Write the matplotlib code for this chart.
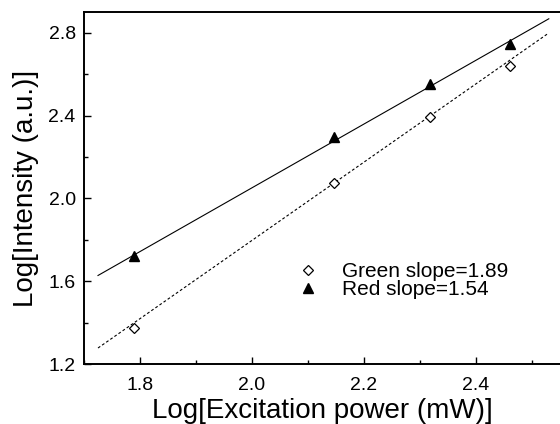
import numpy as np
import matplotlib
matplotlib.use("Agg")
import matplotlib.pyplot as plt
from matplotlib.ticker import MultipleLocator, FormatStrFormatter

plt.rcParams['font.family'] = ['Liberation Sans', 'DejaVu Sans']

# Data
x_power = [1.79, 2.146, 2.318, 2.46]
green_int = [1.375, 2.075, 2.392, 2.64]
red_int = [1.722, 2.298, 2.553, 2.745]

green_slope, green_icpt = 1.89, -1.983
red_slope, red_icpt = 1.54, -1.029
fit_x_range = [1.725, 2.53]

fig = plt.figure(figsize=(5.6, 4.24), dpi=100)
ax = fig.add_axes([0.15, 0.1415, 0.85, 0.8302])

fx = np.array(fit_x_range)
ax.plot(fx, red_slope * fx + red_icpt, color='black', lw=0.8, ls='-')
ax.plot(fx, green_slope * fx + green_icpt, color='black', lw=0.8,
        ls=(0, (2.5, 2)))

ax.plot(x_power, green_int, ls='none', marker='D', markersize=5.5,
        mfc='white', mec='black', mew=0.9, label='Green slope=1.89')
ax.plot(x_power, red_int, ls='none', marker='^', markersize=7,
        mfc='black', mec='black', label='Red slope=1.54')

ax.set_xlim(1.7, 2.55)
ax.set_ylim(1.2, 2.9)
ax.xaxis.set_major_locator(MultipleLocator(0.2))
ax.xaxis.set_minor_locator(MultipleLocator(0.1))
ax.yaxis.set_major_locator(MultipleLocator(0.4))
ax.yaxis.set_minor_locator(MultipleLocator(0.2))
ax.xaxis.set_major_formatter(FormatStrFormatter('%.1f'))
ax.yaxis.set_major_formatter(FormatStrFormatter('%.1f'))

ax.tick_params(which='both', direction='in', width=1.0, labelsize=14)
ax.tick_params(which='major', length=5)
ax.tick_params(which='minor', length=3)
ax.tick_params(axis='y', pad=6)
ax.tick_params(axis='x', pad=9)
for s in ax.spines.values():
    s.set_linewidth(1.4)
ax.spines['right'].set_visible(False)

ax.set_xlabel('Log[Excitation power (mW)]', fontsize=20, labelpad=3)
ax.set_ylabel('Log[Intensity (a.u.)]', fontsize=20, labelpad=7)

leg = ax.legend(loc='upper left', bbox_to_anchor=(0.4445, 0.29), frameon=False,
                fontsize=15, handlelength=1.2, handletextpad=1.05,
                labelspacing=-0.05, borderaxespad=0, borderpad=0)

fig.savefig('out.png', dpi=100)
